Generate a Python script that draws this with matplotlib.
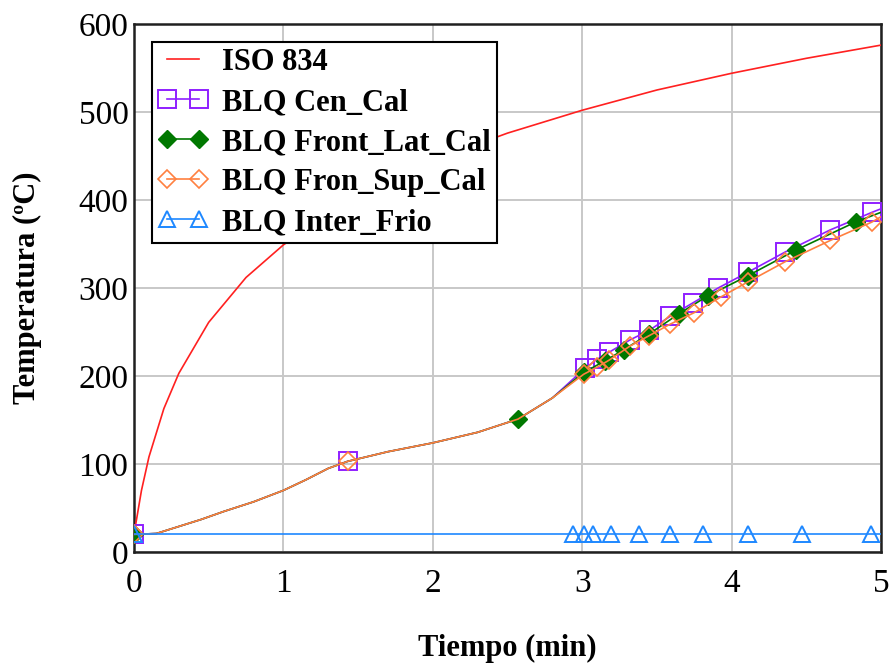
import matplotlib
matplotlib.use("Agg")
import matplotlib.pyplot as plt

# ISO 834 standard fire curve (min, degC)
iso_t = [0, 0.05, 0.1, 0.2, 0.3, 0.5, 0.75, 1.0, 1.25, 1.5, 2.0, 2.5, 3.0, 3.5, 4.0, 4.5, 5.0]
iso_T = [20, 70, 108, 163, 203, 261, 312, 349, 378, 404, 445, 476, 502, 525, 544, 561, 576]

# Shared heating path up to 3 min
base_t = [0, 0.15, 0.3, 0.45, 0.6, 0.8, 1.0, 1.15, 1.3, 1.43, 1.7, 2.0, 2.3, 2.57, 2.8]
base_T = [20, 21, 29, 37, 46, 57, 70, 82, 95, 103, 114, 124, 136, 151, 175]

# BLQ Cen_Cal
cen_t = base_t + [3.02, 3.10, 3.18, 3.32, 3.45, 3.59, 3.74, 3.91, 4.11, 4.36, 4.66, 4.94, 5.0]
cen_T = base_T + [209, 219, 227, 241, 252, 268, 283, 300, 318, 341, 366, 386, 390]
cen_marks = [0, 9, 15, 16, 17, 18, 19, 20, 21, 22, 23, 24, 25, 26]

# BLQ Front_Lat_Cal
lat_t = base_t + [3.01, 3.15, 3.28, 3.45, 3.65, 3.84, 4.11, 4.43, 4.83, 5.0]
lat_T = base_T + [204, 217, 230, 248, 271, 291, 314, 343, 375, 386]
lat_marks = [0, 13, 15, 16, 17, 18, 19, 20, 21, 22, 23]

# BLQ Fron_Sup_Cal
sup_t = base_t + [3.01, 3.10, 3.18, 3.32, 3.45, 3.59, 3.75, 3.93, 4.11, 4.36, 4.66, 4.94, 5.0]
sup_T = base_T + [202, 210, 218, 234, 246, 259, 272, 290, 307, 330, 354, 375, 381]
sup_marks = [0, 9, 15, 16, 17, 18, 19, 20, 21, 22, 23, 24, 25, 26]

# BLQ Inter_Frio
fri_t = [0, 2.94, 3.01, 3.07, 3.19, 3.38, 3.59, 3.81, 4.11, 4.47, 4.93, 5.0]
fri_T = [20, 20, 20, 20, 20, 20, 20, 20, 20, 20, 20, 20]
fri_marks = list(range(11))

x_ticks = [0, 1, 2, 3, 4, 5]
y_ticks = [0, 100, 200, 300, 400, 500, 600]

serif = ["Liberation Serif", "DejaVu Serif"]

fig = plt.figure(figsize=(8.96, 6.67), dpi=100)
ax = fig.add_axes([134 / 896, 1 - 552 / 667, (881 - 134) / 896, (552 - 24) / 667])

lw = 1.2
ax.plot(iso_t, iso_T, color="#FF2020", lw=lw, label="ISO 834", zorder=3)
ax.plot(cen_t, cen_T, color="#8F1FFF", lw=lw, marker="s", markevery=cen_marks,
        ms=12.5, mfc="none", mec="#8F1FFF", mew=1.4, label="BLQ Cen_Cal", zorder=4)
ax.plot(lat_t, lat_T, color="#007800", lw=lw, marker="D", markevery=lat_marks,
        ms=9.5, mfc="#007800", mec="#007800", label="BLQ Front_Lat_Cal", zorder=5)
ax.plot(sup_t, sup_T, color="#FF8040", lw=lw, marker="D", markevery=sup_marks,
        ms=9.5, mfc="none", mec="#FF8040", mew=1.2, label="BLQ Fron_Sup_Cal", zorder=6)
ax.plot(fri_t, fri_T, color="#1E88FF", lw=lw, marker="^", markevery=fri_marks,
        ms=11, mfc="none", mec="#1E88FF", mew=1.4, label="BLQ Inter_Frio", zorder=6)

ax.set_xlim(0, 5)
ax.set_ylim(0, 600)
ax.set_xticks(x_ticks)
ax.set_yticks(y_ticks)
ax.grid(True, color="#C8C8C8", lw=1.4)
ax.set_axisbelow(True)
ax.tick_params(axis="both", length=0, labelsize=24)
ax.tick_params(axis="x", pad=12)
ax.tick_params(axis="y", pad=4)
for lab in ax.get_xticklabels() + ax.get_yticklabels():
    lab.set_family(serif)
for sp in ax.spines.values():
    sp.set_linewidth(1.8)
    sp.set_color("#202020")

ax.set_xlabel("Tiempo (min)", family=serif, fontweight="bold", fontsize=22, labelpad=25)
ax.set_ylabel("Temperatura (ºC)", family=serif, fontweight="bold", fontsize=22, labelpad=26)

leg = ax.legend(loc="upper left", bbox_to_anchor=(0.024, 0.966), numpoints=2,
                prop={"family": serif, "weight": "bold", "size": 22},
                fancybox=False, framealpha=1, edgecolor="black", borderpad=0.2,
                handlelength=1.65, handletextpad=0.45, labelspacing=0.36, borderaxespad=0)
leg.get_frame().set_linewidth(1.5)

fig.savefig("out.png", dpi=100)
